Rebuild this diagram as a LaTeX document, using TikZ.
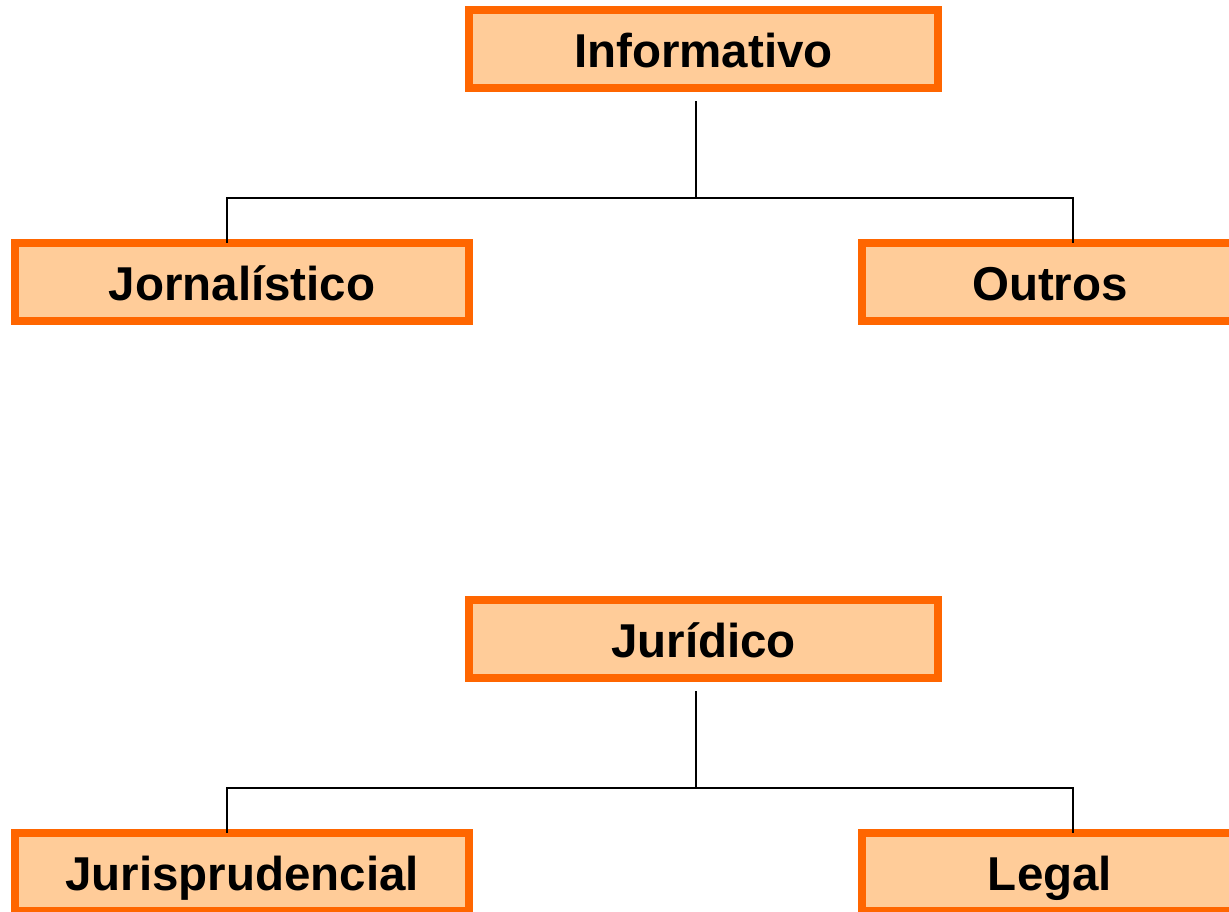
\documentclass[tikz,border=0pt]{standalone}
\usepackage{fontspec}
\setmainfont{Liberation Sans}
\definecolor{boxline}{HTML}{FF6600}
\definecolor{boxfill}{HTML}{FFCC99}
\begin{document}
\begin{tikzpicture}[x=0.5pt,y=-0.5pt,
  box/.style={draw=boxline,fill=boxfill,line width=4pt,inner sep=0pt,outer sep=0pt,
    minimum height=39pt,text height=22.5pt,text depth=4pt,
    font=\fontsize{23.75pt}{28pt}\selectfont\bfseries},
  conn/.style={draw=black,line width=1pt}]
\fill[white] (0,0) rectangle (1229,911);
\useasboundingbox (0,0) rectangle (1229,911);
% top tree
\node[box,minimum width=234.5pt] (inf) at (703.5,49) {Informativo};
\node[box,minimum width=227pt] (jor) at (242,281.5) {Jornalístico};
\node[box,minimum width=188pt] (out) at (1050,281.5) {Outros};
\coordinate (ia) at (696,101);
\coordinate (ib) at (696,198);
\draw[conn] (ia) -- (ib);
\draw[conn] ([xshift=-7.5pt]jor.north) |- (ib) -| ([xshift=11.5pt]out.north);
% bottom tree
\node[box,minimum width=234.5pt] (jur) at (703.5,639) {Jurídico};
\node[box,minimum width=227pt] (jp) at (242,871.5) {Jurisprudencial};
\node[box,minimum width=188pt] (leg) at (1050,871.5) {Legal};
\coordinate (ja) at (696,691);
\coordinate (jb) at (696,788);
\draw[conn] (ja) -- (jb);
\draw[conn] ([xshift=-7.5pt]jp.north) |- (jb) -| ([xshift=11.5pt]leg.north);
\end{tikzpicture}
\end{document}
